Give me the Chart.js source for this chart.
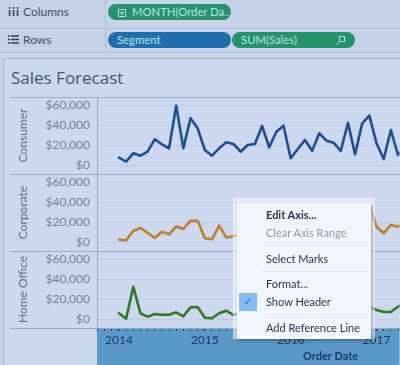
<!DOCTYPE html>
<html><head><meta charset="utf-8">
<script src="https://cdn.jsdelivr.net/npm/chart.js@4"></script>
<style>
html,body{margin:0;padding:0;width:400px;height:365px;overflow:hidden;background:#c5d2ea;font-family:Lato,sans-serif}
.abs{position:absolute;white-space:nowrap}
#view{position:absolute;left:3px;top:58px;width:397px;height:307px;background:#cbd8f0;border-top:1px solid #a5b2cc;border-left:1px solid #a5b2cc;box-sizing:border-box}
canvas{position:absolute;left:0;top:0}
.lab{font-size:12px;color:#3f5068;line-height:16px}
.pill{position:absolute;height:16px;border-radius:8px;color:#b5e4e2;font-size:11.3px;line-height:16px;box-sizing:border-box;white-space:nowrap}
.g{background:#26926a}.b{background:#1f6fae}
.hl{position:absolute;background:#aebcd6;height:1px}
#halo{position:absolute;left:233px;top:198px;width:142px;height:141px;background:rgba(255,255,255,.55)}
#menu{position:absolute;left:237px;top:203px;width:134px;height:136px;background:#f3f6fd;box-shadow:1px 2px 3px rgba(40,60,90,.5);box-sizing:border-box;color:#28354a;font-size:11px}
#menu div{position:absolute;white-space:nowrap;line-height:14px;left:29px}
#menu .sep{left:25px;width:105px;height:1px;background:#e3e8f1}
</style></head>
<body>
<div class="lab abs" style="left:8px;top:4px;font-weight:700;letter-spacing:1px;color:#2c3a50;font-size:12px">iii</div>
<div class="lab abs" style="left:23px;top:4px">Columns</div>
<svg class="abs" style="left:8px;top:35px" width="11" height="9"><path d="M0 1h2M3 1h8M0 4.5h2M3 4.5h8M0 8h2M3 8h8" stroke="#2c3a50" stroke-width="1.4"/></svg>
<div class="lab abs" style="left:23px;top:32px">Rows</div>
<div class="abs" style="left:105px;top:0;width:1px;height:52px;background:#aebcd6"></div>
<div class="hl" style="left:0;top:28px;width:400px"></div>
<div class="hl" style="left:0;top:52px;width:400px"></div>
<div class="pill g" style="left:108px;top:4px;width:123px;padding-left:10px">
<svg width="8" height="8" style="margin-right:6px;vertical-align:-0.5px"><path d="M.5.5h7v7h-7zM4 2v4M2 4h4" fill="none" stroke="#b5e4e2"/></svg>MONTH(Order Da..</div>
<div class="pill b" style="left:108px;top:32px;width:123px;padding-left:9px">Segment</div>
<div class="pill g" style="left:232px;top:32px;width:123px;padding-left:9px">SUM(Sales)
<svg width="9" height="9" style="position:absolute;right:10px;top:4px"><path d="M3.5.5h5v5h-5zM3.5 5.5L.5 8.5" fill="none" stroke="#b5e4e2"/></svg></div>
<div id="view"></div>
<div class="abs" style="left:11px;top:66px;font-size:17px;line-height:24px;color:#44546c;font-family:'Open Sans',sans-serif">Sales Forecast</div>
<canvas id="c" width="400" height="365"></canvas>
<div class="abs" style="left:303px;top:348px;font-size:11px;line-height:16px;font-weight:700;color:#173a63">Order Date</div>
<div id="halo"></div>
<div id="menu">
<div style="top:5px;font-weight:700">Edit Axis...</div>
<div style="top:23px;color:#8497b2">Clear Axis Range</div>
<div class="sep" style="top:42px"></div>
<div style="top:49px">Select Marks</div>
<div class="sep" style="top:68px"></div>
<div style="top:74px">Format...</div>
<div style="left:2px;top:90px;width:18px;height:18px;background:#7fbdf2;color:#2f5f96;line-height:18px;text-align:center;font-size:10px;font-family:'DejaVu Sans'">✓</div>
<div style="top:92px">Show Header</div>
<div class="sep" style="top:111px"></div>
<div style="top:118px">Add Reference Line</div>
</div>
<script>
const segments = ["Consumer", "Corporate", "Home Office"];
const consumer = [7300,3300,11700,9300,13300,25700,20700,16700,59300,16700,46700,36700,15000,9300,16700,22700,21000,13300,20000,21000,39000,17700,33300,39300,6700,16000,25000,14300,31700,24300,22300,14000,42300,10700,41700,49300,21700,6000,35000,10000,18000];
const corporate = [2300,1700,11000,14300,9300,4000,10300,7700,15700,13000,21300,21300,3700,2700,16300,4300,5700,8000,12000,14000,11000,20000,15000,26000,6000,14000,22000,12000,25000,18000,16000,10000,28000,9000,24000,38000,15300,8700,17000,15300,20000];
const homeOffice = [5700,300,32300,5700,2300,5000,4300,4300,6700,2700,11700,12000,1300,700,5700,8300,4000,6000,9000,5000,7000,12000,6000,9000,3000,8000,11000,5000,10000,7000,6000,4000,13000,5000,15000,12300,9000,7000,7000,12300,16000];
const yTicks = [0,20000,40000,60000];
const startYear = 2014;

const pts = a => a.map((v,i)=>({x:i,y:v}));
const yAxis = (name) => ({
  type:'linear', position:'left', stack:'panels', stackWeight:1,
  min:-9000, max:68000,
  afterFit(s){ s.width = 97; },
  afterBuildTicks(s){ s.ticks = yTicks.map(v=>({value:v})); },
  border:{color:'#94a3bf',width:1},
  grid:{color:'#bdcbe5',lineWidth:1,drawTicks:false},
  ticks:{padding:7,autoSkip:false,color:'#707e94',font:{family:'Lato',size:12},
    callback:v=>'$'+v.toLocaleString('en-US')},
  title:{display:true,text:name,color:'#5f6e85',font:{family:'Lato',size:12},padding:{top:16,bottom:0}}
});
const panelLines = {
  id:'panelLines',
  afterDatasetsDraw(chart){
    const g = chart.ctx; g.save();
    g.strokeStyle='#9aa9c4'; g.lineWidth=1;
    const ys=[chart.scales.y1.top,chart.scales.y1.bottom,chart.scales.y2.bottom,chart.scales.y3.bottom];
    ys.forEach(y=>{g.beginPath();g.moveTo(10,Math.round(y)+.5);g.lineTo(400,Math.round(y)+.5);g.stroke();});
    g.restore();
  }
};
new Chart(document.getElementById('c'),{
  type:'line',
  data:{datasets:[
    {label:segments[0],data:pts(consumer),yAxisID:'y1',borderColor:'#1c4d95'},
    {label:segments[1],data:pts(corporate),yAxisID:'y2',borderColor:'#c07e25'},
    {label:segments[2],data:pts(homeOffice),yAxisID:'y3',borderColor:'#2f7a1e'}
  ]},
  options:{
    responsive:false,animation:false,
    layout:{padding:{top:97,left:0,right:0,bottom:0}},
    elements:{point:{radius:0},line:{borderWidth:2.6,tension:0,borderJoinStyle:'round',borderCapStyle:'round'}},
    plugins:{legend:{display:false},tooltip:{enabled:false}},
    scales:{
      x:{type:'linear',position:'bottom',min:-3.07,max:39.2,
        afterFit(s){ s.height = 37; },
        backgroundColor:'#5b99c6',
        border:{display:false},
        grid:{drawOnChartArea:false,tickLength:3,tickColor:'#173a63',
          tickWidth:c=>(c.tick&&c.tick.value%12===0)?2:1},
        ticks:{stepSize:1,includeBounds:false,autoSkip:false,maxRotation:0,padding:2,
          color:'#173a63',font:{family:'Lato',size:12},
          callback:v=>(v>=0&&v%12===0)?String(startYear+v/12):''}
      },
      y3:yAxis(segments[2]),
      y2:yAxis(segments[1]),
      y1:yAxis(segments[0])
    }
  },
  plugins:[panelLines]
});
</script>
</body></html>
